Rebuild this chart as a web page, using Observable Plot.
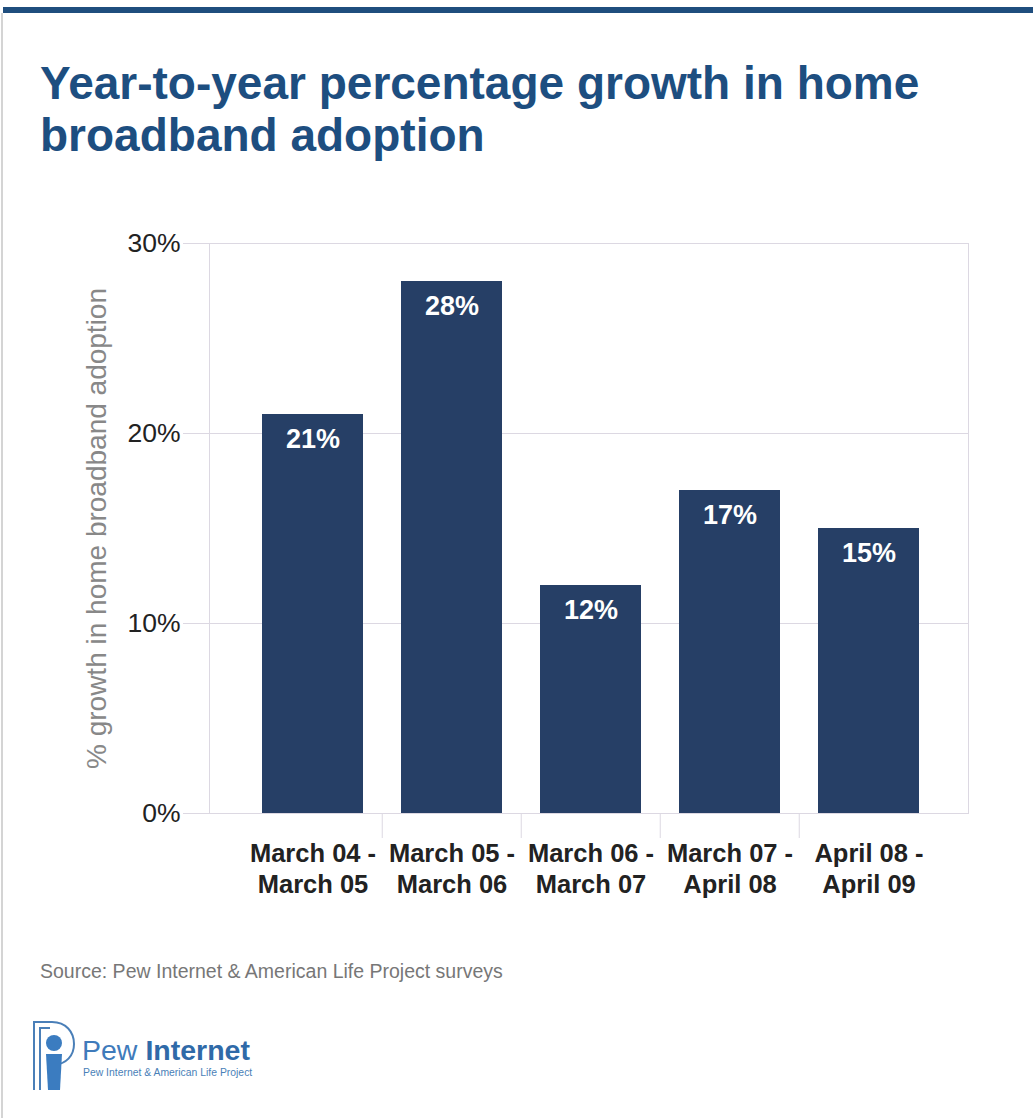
<!DOCTYPE html>
<html>
<head>
<meta charset="utf-8">
<script src="https://cdn.jsdelivr.net/npm/d3@7"></script>
<script src="https://cdn.jsdelivr.net/npm/@observablehq/plot@0.6"></script>
<style>
  html, body { margin: 0; padding: 0; background: #fff; }
  #page { position: relative; width: 1033px; height: 1118px; overflow: hidden;
          font-family: Arial, "Liberation Sans", Helvetica, sans-serif; }
  #topbar { position: absolute; left: 3px; top: 7px; width: 1030px; height: 6px; background: #1f4e7e; }
  #leftline { position: absolute; left: 1px; top: 13px; width: 2px; height: 1105px; background: #d4d4d4; }
  #title { position: absolute; left: 40px; top: 57px; margin: 0; font-size: 46px; font-weight: bold;
           line-height: 52px; color: #1d4e80; white-space: nowrap; }
  #chart { position: absolute; left: 0; top: 200px; }
  #source { position: absolute; left: 40px; top: 962px; font-size: 19.5px; line-height: 19px; color: #777; white-space: nowrap; }
  #logo { position: absolute; left: 28px; top: 1016px; }
</style>
</head>
<body>
<div id="page">
  <div id="topbar"></div>
  <div id="leftline"></div>
  <h1 id="title">Year-to-year percentage growth in home<br>broadband adoption</h1>
  <div id="chart"></div>
  <div id="source">Source: Pew Internet &amp; American Life Project surveys</div>
  <svg id="logo" width="250" height="80" viewBox="0 0 250 80">
    <path d="M6 74 V6 H24 C38 6 46 16 46 28 C46 40 38 48 26 49" fill="none" stroke="#4a7fb8" stroke-width="2"/>
    <path d="M12 74 V12 H22" fill="none" stroke="#4a7fb8" stroke-width="2"/>
    <circle cx="26" cy="27" r="8" fill="#3b7cc0"/>
    <path d="M18 38 H34 L32 74 H20 Z" fill="#3b7cc0"/>
    <text x="54" y="44" font-family="Arial, 'Liberation Sans', sans-serif" font-size="28.5" fill="#3f7bbb">Pew <tspan font-weight="bold" fill="#2f6aa8">Internet</tspan></text>
    <text x="55" y="60" font-family="Arial, 'Liberation Sans', sans-serif" font-size="10.4" fill="#4a7fb8">Pew Internet &amp; American Life Project</text>
  </svg>
</div>
<script>
// ---- data ----
const periods = [
  "March 04 -\nMarch 05",
  "March 05 -\nMarch 06",
  "March 06 -\nMarch 07",
  "March 07 -\nApril 08",
  "April 08 -\nApril 09"
];
const growth = [21, 28, 12, 17, 15];
const yTicks = [0, 10, 20, 30];
const yLabel = "% growth in home broadband adoption";

// ---- style ----
const barColor = "#263f66";
const gridColor = "#dcd8e2";
const fontFamily = 'Arial, "Liberation Sans", Helvetica, sans-serif';
const xPaddingInner = 0.27;

const data = periods.map((p, i) => ({period: p, growth: growth[i]}));

function separators(index, scales, values, dimensions, context) {
  const x = scales.x, y = scales.y;
  const step = x(periods[1]) - x(periods[0]);
  const gap = step * xPaddingInner;
  const y0 = y(0);
  const g = d3.create("svg:g");
  periods.slice(0, -1).forEach(p => {
    const sx = x(p) + step - gap / 2;
    g.append("line")
      .attr("x1", sx).attr("x2", sx)
      .attr("y1", y0).attr("y2", y0 + 25)
      .attr("stroke", gridColor);
  });
  return g.node();
}

const chart = Plot.plot({
  width: 1033,
  height: 713,
  marginTop: 43,
  marginBottom: 100,
  marginLeft: 209,
  marginRight: 65,
  style: {fontFamily, background: "transparent", overflow: "visible"},
  x: {domain: periods, paddingInner: xPaddingInner, paddingOuter: xPaddingInner / 2,
      insetLeft: 32.5, insetRight: 28.5, label: null},
  y: {domain: [0, 30], label: null},
  marks: [
    Plot.ruleY(yTicks, {stroke: gridColor}),
    Plot.frame({stroke: gridColor}),
    Plot.barY(data, {x: "period", y: "growth", fill: barColor}),
    Plot.text(data, {
      x: "period", y: "growth", text: d => d.growth + "%",
      fill: "white", fontWeight: "bold", fontSize: 27, lineAnchor: "top", dy: 14
    }),
    Plot.axisY({
      ticks: yTicks, tickFormat: d => d + "%", tickSize: 26, tickPadding: 3,
      stroke: gridColor, fill: "#222", fontSize: 26.5, label: null
    }),
    Plot.axisX({
      tickSize: 0, tickPadding: 27, fontSize: 25.5, fontWeight: "bold",
      fill: "#222", lineHeight: 1.2, label: null
    }),
    Plot.text([yLabel], {
      frameAnchor: "left", textAnchor: "middle", rotate: -90, dx: -112, fontSize: 28, fill: "#888"
    }),
    separators
  ]
});
document.getElementById("chart").appendChild(chart);
</script>
</body>
</html>
